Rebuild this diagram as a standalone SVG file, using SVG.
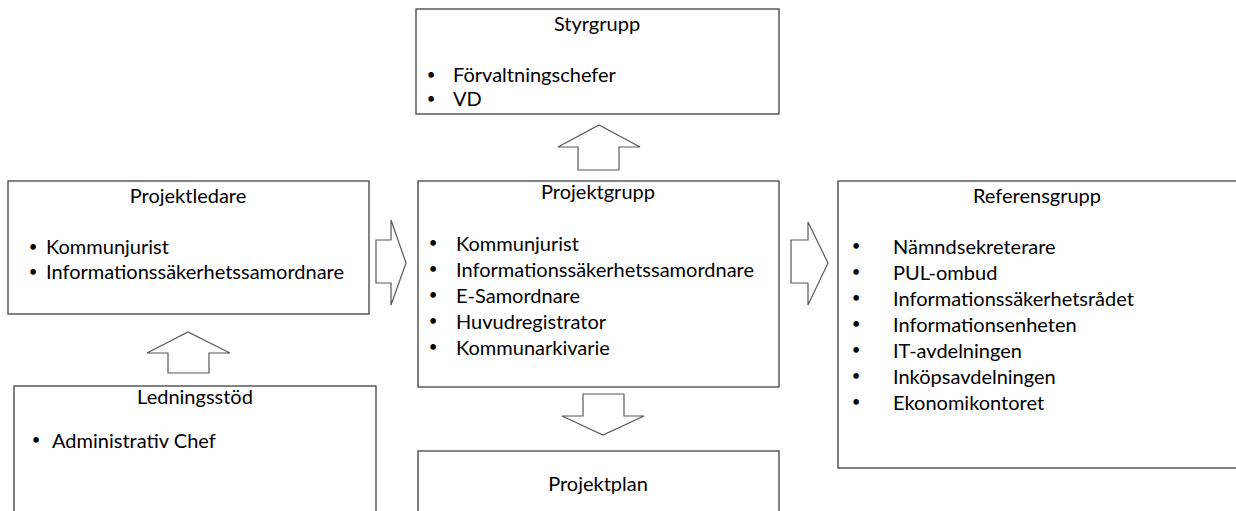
<svg xmlns="http://www.w3.org/2000/svg" width="1236" height="511" viewBox="0 0 1236 511">
<style>
.box{fill:#fff;stroke:#404040;stroke-width:1.3}
.arr{fill:#fff;stroke:#595959;stroke-width:1.2;stroke-linejoin:miter}
text{font-family:Lato,"Liberation Sans",sans-serif;font-size:20px;fill:#000}
.t{text-anchor:middle}
.b{text-anchor:middle;font-size:15px}
</style>
<rect width="1236" height="511" fill="#fff"/>
<g id="connectors">
<polygon class="arr" points="578,170 578,147 558,147 599,125 640,147 619,147 619,170"/>
<polygon class="arr" points="376,240 391,240 391,220 406,263 391,305 391,283 376,283"/>
<polygon class="arr" points="168,373 168,353 147,353 188,332 230,353 209,353 209,373"/>
<polygon class="arr" points="583,394 624,394 624,416 644,416 603,435 562,416 583,416"/>
<polygon class="arr" points="791,240 808,240 808,222 828,263 808,305 808,283 791,283"/>
</g>
<g id="styrgrupp">
<rect class="box" x="416" y="9" width="363" height="105"/>
<text class="t" x="597" y="31">Styrgrupp</text>
<text class="b" x="431" y="80">•</text><text x="453" y="82">Förvaltningschefer</text>
<text class="b" x="431" y="104">•</text><text x="453" y="106">VD</text>
</g>
<g id="projektledare">
<rect class="box" x="8" y="181" width="361" height="133"/>
<text class="t" x="188" y="203">Projektledare</text>
<text class="b" x="33" y="252">•</text><text x="46" y="254">Kommunjurist</text>
<text class="b" x="33" y="277">•</text><text x="46" y="279">Informationssäkerhetssamordnare</text>
</g>
<g id="projektgrupp">
<rect class="box" x="418" y="181" width="361" height="206"/>
<text class="t" x="598" y="199">Projektgrupp</text>
<text class="b" x="433" y="248">•</text><text x="456" y="251">Kommunjurist</text>
<text class="b" x="433" y="274">•</text><text x="456" y="277">Informationssäkerhetssamordnare</text>
<text class="b" x="433" y="300">•</text><text x="456" y="303">E-Samordnare</text>
<text class="b" x="433" y="326">•</text><text x="456" y="329">Huvudregistrator</text>
<text class="b" x="433" y="352">•</text><text x="456" y="355">Kommunarkivarie</text>
</g>
<g id="referensgrupp">
<rect class="box" x="838" y="181" width="410" height="287"/>
<text class="t" x="1037" y="203">Referensgrupp</text>
<text class="b" x="856" y="251">•</text><text x="893" y="254">Nämndsekreterare</text>
<text class="b" x="856" y="277">•</text><text x="893" y="280">PUL-ombud</text>
<text class="b" x="856" y="303">•</text><text x="893" y="306">Informationssäkerhetsrådet</text>
<text class="b" x="856" y="329">•</text><text x="893" y="332">Informationsenheten</text>
<text class="b" x="856" y="355">•</text><text x="893" y="358">IT-avdelningen</text>
<text class="b" x="856" y="381">•</text><text x="893" y="384">Inköpsavdelningen</text>
<text class="b" x="856" y="407">•</text><text x="893" y="410">Ekonomikontoret</text>
</g>
<g id="ledningsstod">
<rect class="box" x="14" y="386" width="362" height="140"/>
<text class="t" x="195" y="404">Ledningsstöd</text>
<text class="b" x="36" y="445">•</text><text x="52" y="448">Administrativ Chef</text>
</g>
<g id="projektplan">
<rect class="box" x="418" y="451" width="361" height="80"/>
<text class="t" x="598" y="491">Projektplan</text>
</g>
</svg>
